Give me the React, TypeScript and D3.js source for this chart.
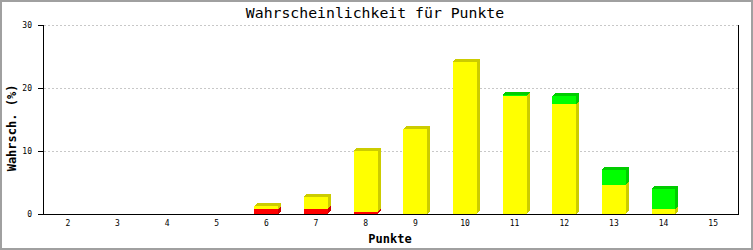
import React from "react";
import * as d3 from "d3";

const categories = ["2", "3", "4", "5", "6", "7", "8", "9", "10", "11", "12", "13", "14", "15"];
const redValues = [0, 0, 0, 0, 0.8, 0.8, 0.35, 0, 0, 0, 0, 0, 0, 0];
const yellowValues = [0, 0, 0, 0, 0.4, 1.95, 9.7, 13.5, 24.2, 18.7, 17.45, 4.6, 0.8, 0];
const greenValues = [0, 0, 0, 0, 0, 0, 0, 0, 0, 0.15, 1.3, 2.4, 3.15, 0];
const yTicks = [0, 10, 20, 30];

const W = 753;
const H = 250;
const M = { left: 43, right: 738, top: 25, bottom: 214 };
const DEPTH = 3;

const seriesList = [
  { values: redValues, front: "#ff0000", dark: "#cc0000" },
  { values: yellowValues, front: "#ffff00", dark: "#cccc00" },
  { values: greenValues, front: "#00ff00", dark: "#00cc00" },
];

export default function App() {
  const x = d3.scaleBand<string>().domain(categories).range([M.left, M.right]).paddingInner(0).paddingOuter(0);
  const y = d3.scaleLinear().domain([0, 30]).range([M.bottom, M.top]);
  const bw = x.bandwidth() * 0.48;

  const mono = "'DejaVu Sans Mono', 'Liberation Mono', monospace";

  const bars: React.ReactNode[] = [];
  categories.forEach((c, i) => {
    const x0 = (x(c) as number) + x.bandwidth() / 2 - bw / 2;
    let base = 0;
    let topSeries: { front: string; dark: string } | null = null;
    let topY = 0;
    seriesList.forEach((s, si) => {
      const v = s.values[i];
      if (v <= 0) return;
      const yb = y(base);
      const yt = y(base + v);
      base += v;
      topSeries = s;
      topY = yt;
      bars.push(
        <g key={`${c}-${si}`}>
          <rect x={x0} y={yt} width={bw} height={yb - yt} fill={s.front} />
          <polygon
            points={`${x0 + bw},${yt} ${x0 + bw + DEPTH},${yt - DEPTH} ${x0 + bw + DEPTH},${yb - DEPTH} ${x0 + bw},${yb}`}
            fill={s.dark}
          />
        </g>
      );
    });
    if (topSeries) {
      const ts = topSeries as { front: string; dark: string };
      bars.push(
        <polygon
          key={`${c}-top`}
          points={`${x0},${topY} ${x0 + DEPTH},${topY - DEPTH} ${x0 + bw + DEPTH},${topY - DEPTH} ${x0 + bw},${topY}`}
          fill={ts.dark}
        />
      );
    }
  });

  return (
    <svg
      width={W}
      height={H}
      style={{ position: "absolute", left: 0, top: 0, display: "block" }}
      shapeRendering="crispEdges"
    >
      <rect x={0} y={0} width={W} height={H} fill="#ffffff" />
      <rect x={1} y={1} width={W - 2} height={H - 2} fill="none" stroke="#a0a0a0" strokeWidth={2} />
      <text x={375} y={18} textAnchor="middle" fontFamily={mono} fontSize={14.8} fill="#000">
        Wahrscheinlichkeit für Punkte
      </text>
      {yTicks.filter((t) => t > 0).map((t) => (
        <line
          key={`g${t}`}
          x1={M.left + 1}
          x2={M.right}
          y1={Math.round(y(t)) + 0.5}
          y2={Math.round(y(t)) + 0.5}
          stroke="#c8c8c8"
          strokeDasharray="2,2"
        />
      ))}
      {bars}
      <line x1={M.left + 0.5} x2={M.left + 0.5} y1={M.top} y2={M.bottom + 1} stroke="#000" />
      <line x1={M.right + 0.5} x2={M.right + 0.5} y1={M.top} y2={M.bottom + 1} stroke="#000" />
      <line x1={M.left} x2={M.right + 1} y1={M.bottom + 0.5} y2={M.bottom + 0.5} stroke="#000" />
      {yTicks.map((t) => (
        <g key={`t${t}`}>
          <line x1={M.left - 5} x2={M.left} y1={Math.round(y(t)) + 0.5} y2={Math.round(y(t)) + 0.5} stroke="#000" />
          <text x={32} y={y(t) + 3} textAnchor="end" fontFamily={mono} fontSize={8} fill="#000">
            {t}
          </text>
        </g>
      ))}
      {categories.map((c) => (
        <text
          key={`x${c}`}
          x={(x(c) as number) + x.bandwidth() / 2}
          y={226}
          textAnchor="middle"
          fontFamily={mono}
          fontSize={8}
          fill="#000"
        >
          {c}
        </text>
      ))}
      <text x={390} y={243} textAnchor="middle" fontFamily={mono} fontWeight="bold" fontSize={12} fill="#000">
        Punkte
      </text>
      <text
        transform={`translate(16,128) rotate(-90)`}
        textAnchor="middle"
        fontFamily={mono}
        fontWeight="bold"
        fontSize={12}
        fill="#000"
      >
        Wahrsch. (%)
      </text>
    </svg>
  );
}
